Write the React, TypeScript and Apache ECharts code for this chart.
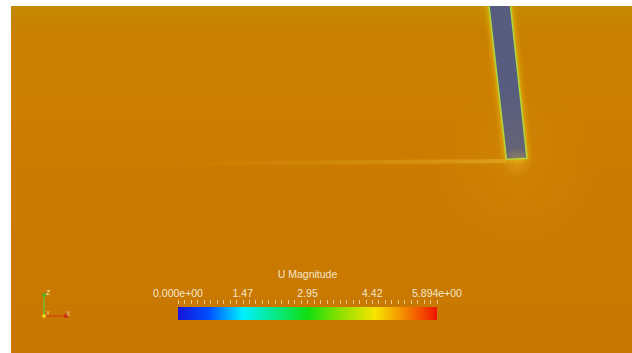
import React, { useEffect, useRef } from "react";
import * as echarts from "echarts";

// Colour bar (U Magnitude)
const fieldRange = [0, 5.894];
const minorTickStep = 0.14735;
const tickLabelValues = [0, 1.4735, 2.947, 4.4205, 5.894];
const tickLabelTexts = ["0.000e+00", "1.47", "2.95", "4.42", "5.894e+00"];
const colormapStops = [0, 0.12, 0.25, 0.5, 0.62, 0.76, 0.87, 1];
const colormapColors = ["#1414dc", "#0050ff", "#00f0ff", "#10e010", "#88e000", "#f8e400", "#f48c00", "#f01400"];

// Domain (x 0..10, y 0..5.6)
const domainX = [0, 10];
const domainY = [0, 5.6];
const plateCorners = [
  [7.68, 5.75],
  [8.027, 5.75],
  [8.309, 3.142],
  [7.979, 3.123],
];
const wakeX = [2.6, 4.5, 6.5, 7.6, 7.98];
const wakeY = [3.06, 3.072, 3.085, 3.095, 3.1];
const glowPoints = [
  [8.15, 2.9],
  [8.15, 3.08],
];
const glowSizes = [170, 30];
const glowAlphas = [0.14, 0.45];

const textColor = "#f6e8cc";
const fontFamily = "'Liberation Sans', Arial, sans-serif";

export default function App() {
  const ref = useRef<HTMLDivElement>(null);
  useEffect(() => {
    if (!ref.current) return;
    const chart = echarts.init(ref.current, undefined, { renderer: "svg" });
    const option: any = {
      animation: false,
      backgroundColor: "#ffffff",
      grid: [
        {
          left: 11,
          top: 6,
          right: 0,
          bottom: 0,
          show: true,
          borderWidth: 0,
          backgroundColor: new echarts.graphic.LinearGradient(0, 0, 0, 1, [
            { offset: 0, color: "#c38a00" },
            { offset: 0.07, color: "#c98000" },
            { offset: 0.3, color: "#cc7e00" },
            { offset: 0.5, color: "#cb7a00" },
            { offset: 1, color: "#c87700" },
          ]),
        },
        { left: 178, top: 307, width: 259, height: 13 },
      ],
      xAxis: [
        { gridIndex: 0, type: "value", min: domainX[0], max: domainX[1], show: false },
        {
          gridIndex: 1,
          type: "value",
          min: fieldRange[0],
          max: fieldRange[1],
          position: "top",
          axisLine: { show: false },
          splitLine: { show: false },
          axisTick: { show: false },
          axisLabel: {
            customValues: tickLabelValues,
            formatter: (v: number) => {
              let best = 0;
              tickLabelValues.forEach((t, i) => {
                if (Math.abs(t - v) < Math.abs(tickLabelValues[best] - v)) best = i;
              });
              return tickLabelTexts[best];
            },
            color: textColor,
            fontSize: 10.5,
            fontFamily,
            margin: 9,
          },
          name: "U Magnitude",
          nameLocation: "middle",
          nameGap: 28,
          nameTextStyle: { color: textColor, fontSize: 10.5, fontFamily },
        },
        {
          gridIndex: 1,
          type: "value",
          min: fieldRange[0],
          max: fieldRange[1],
          interval: minorTickStep,
          position: "top",
          offset: 3,
          axisLine: { show: true, lineStyle: { color: "rgba(0,0,0,0)" } },
          splitLine: { show: false },
          axisLabel: { show: false },
          axisTick: { show: true, length: 4, lineStyle: { color: "#fff2d8", width: 1, opacity: 0.65 } },
        },
      ],
      yAxis: [
        { gridIndex: 0, type: "value", min: domainY[0], max: domainY[1], show: false },
        { gridIndex: 1, type: "value", min: 0, max: 1, show: false },
      ],
      series: [
        {
          type: "scatter",
          xAxisIndex: 0,
          yAxisIndex: 0,
          silent: true,
          data: glowPoints.map((p, i) => ({
            value: p,
            symbolSize: glowSizes[i],
            itemStyle: {
              color: new echarts.graphic.RadialGradient(0.5, 0.5, 0.5, [
                { offset: 0, color: `rgba(240,190,40,${glowAlphas[i]})` },
                { offset: 1, color: "rgba(240,190,40,0)" },
              ]),
            },
          })),
        },
        {
          type: "line",
          xAxisIndex: 0,
          yAxisIndex: 0,
          silent: true,
          symbol: "none",
          smooth: true,
          data: wakeX.map((x, i) => [x, wakeY[i]]),
          lineStyle: {
            width: 4,
            color: new echarts.graphic.LinearGradient(0, 0, 1, 0, [
              { offset: 0, color: "rgba(220,160,30,0)" },
              { offset: 0.5, color: "rgba(220,160,30,0.3)" },
              { offset: 1, color: "rgba(230,180,40,0.55)" },
            ]),
            shadowColor: "rgba(225,165,30,0.5)",
            shadowBlur: 6,
          },
        },
        {
          type: "custom",
          xAxisIndex: 0,
          yAxisIndex: 0,
          silent: true,
          clip: true,
          data: [0],
          renderItem: (params: any, api: any) => ({
            type: "polygon",
            shape: { points: plateCorners.map((c) => api.coord(c)) },
            style: {
              fill: "#585c7e",
              stroke: "#a8d83c",
              lineWidth: 1.5,
              shadowColor: "rgba(235,210,20,0.9)",
              shadowBlur: 6,
            },
          }),
        },
        {
          type: "custom",
          xAxisIndex: 1,
          yAxisIndex: 1,
          silent: true,
          data: [[fieldRange[0], fieldRange[1]]],
          renderItem: (params: any, api: any) => {
            const p0 = api.coord([api.value(0), 0]);
            const p1 = api.coord([api.value(1), 1]);
            return {
              type: "rect",
              shape: { x: p0[0], y: p1[1], width: p1[0] - p0[0], height: p0[1] - p1[1] },
              style: {
                fill: new echarts.graphic.LinearGradient(
                  0,
                  0,
                  1,
                  0,
                  colormapStops.map((s, i) => ({ offset: s, color: colormapColors[i] }))
                ),
              },
            };
          },
        },
      ],
      graphic: [
        { type: "line", shape: { x1: 44, y1: 316, x2: 44, y2: 295 }, style: { stroke: "#6cc030", lineWidth: 1.5 } },
        { type: "line", shape: { x1: 44, y1: 316, x2: 66, y2: 316 }, style: { stroke: "#d84818", lineWidth: 1.5 } },
        { type: "circle", shape: { cx: 44, cy: 295, r: 2 }, style: { fill: "#50b020" } },
        { type: "circle", shape: { cx: 66, cy: 316, r: 2 }, style: { fill: "#c82810" } },
        { type: "circle", shape: { cx: 44, cy: 316, r: 2 }, style: { fill: "#e8d020" } },
        { type: "text", x: 46, y: 289, style: { text: "Z", fill: "#e8f0c0", fontSize: 7, fontFamily } },
        { type: "text", x: 46, y: 310, style: { text: "Y", fill: "#f0e0a0", fontSize: 6, fontFamily } },
        { type: "text", x: 66, y: 310, style: { text: "X", fill: "#f0c0a0", fontSize: 7, fontFamily } },
      ],
    };
    chart.setOption(option);
    return () => chart.dispose();
  }, []);
  return <div ref={ref} style={{ position: "fixed", left: 0, top: 0, width: 632, height: 353 }} />;
}
